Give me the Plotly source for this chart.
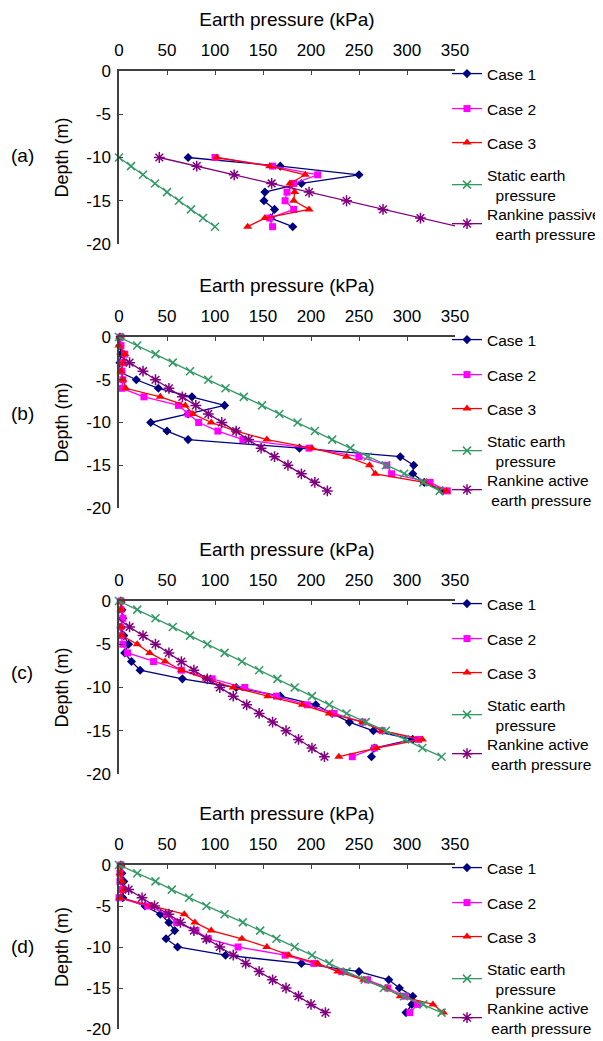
import plotly

# depths (m)
depth_a = [-10, -11, -12, -13, -14, -15, -16, -17, -18]
depth = [0, -1, -2, -3, -4, -5, -6, -7, -8, -9, -10, -11, -12, -13, -14, -15, -16, -17, -18]
depth_rk = [-2, -3, -4, -5, -6, -7, -8, -9, -10, -11, -12, -13, -14, -15, -16, -17, -18]

# (a) passive side
a_case1 = [72, 168, 250, 190, 152, 151, 162, 158, 181]
a_case2 = [100, 160, 207, 182, 175, 173, 182, 157, 160]
a_case3 = [102, 157, 194, 178, 183, 182, 198, 152, 134]
a_static = [0, 12.5, 25, 37.5, 50, 62.5, 75, 87.5, 100]
a_rankine = [42, 81, 120, 159, 198, 237, 275, 314, 354]

# (b)
b_case1 = [1, 1, 2, 1, -1, 18, 41, 76, 110, 72, 33, 50, 72, 188, 293, 307, 306, 318, 337]
b_case2 = [2, 2, 6, 4, 3, 4, 3, 26, 62, 72, 83, 103, 129, 198, 250, 279, 284, 324, 342]
b_case3 = [1, 0, 6, 4, 2, 4, 7, 43, 69, 77, 96, 122, 154, 201, 237, 261, 267, 318, 341]
b_static = [0, 19, 38, 56, 74, 93, 111, 130, 149, 167, 186, 204, 222, 241, 259, 278, 297, 317, 334]
b_rankine = [-2, 11, 25, 38, 52, 66, 80, 93, 107, 122, 135, 148, 162, 176, 190, 204, 217]

# (c)
c_case1 = [2, 3, 4, 2, 5, 10, 6, 13, 22, 66, 122, 168, 205, 222, 240, 265, 306, 266, 263]
c_case2 = [2, 2, 4, 2, 2, 4, 9, 36, 65, 97, 131, 164, 196, 224, 254, 274, 312, 266, 243]
c_case3 = [2, 2, -3, 2, 3, 19, 32, 48, 65, 91, 119, 155, 191, 219, 254, 274, 316, 268, 229]
c_static = [0, 19, 38, 56, 74, 92, 110, 128, 146, 165, 183, 201, 219, 237, 257, 278, 298, 316, 336]
c_rankine = [-1, 11, 25, 38, 52, 65, 78, 92, 105, 119, 133, 146, 160, 174, 187, 201, 214]

# (d)
d_case1 = [2, 3, 5, 4, 4, 27, 43, 52, 58, 49, 61, 111, 190, 250, 281, 292, 306, 305, 299]
d_case2 = [2, 1, 1, 3, 0, 30, 50, 60, 80, 93, 124, 173, 203, 232, 259, 280, 298, 311, 303]
d_case3 = [2, 1, 3, 5, 1, 35, 68, 79, 96, 128, 154, 177, 207, 228, 255, 278, 293, 327, 338]
d_static = [0, 19, 38, 55, 73, 91, 110, 129, 147, 164, 183, 201, 219, 237, 256, 276, 297, 317, 336]
d_rankine = [-1, 10, 24, 37, 52, 64, 78, 91, 105, 119, 132, 146, 160, 174, 187, 200, 215]

panel_labels = ["(a)", "(b)", "(c)", "(d)"]
x_ticks = [0, 50, 100, 150, 200, 250, 300, 350]
y_ticks = [0, -5, -10, -15, -20]
y_ticktext = ["0", "-5", "-10", "-15", "-20"]

FONT = "Liberation Sans, Arial, sans-serif"
# the page body adds an 8 px margin, so the figure is drawn 8 px smaller
OFF = 8
W, H = 603 - OFF, 1041 - OFF
# plot area tops / bottoms in window pixels
tops = [71, 337, 601, 865]
bottoms = [244, 508, 774, 1029]
label_y = [155, 413, 672, 946]
# legend entry centres below each plot top
legend_dy = [3, 38, 72, 114, 153]

styles = {
    "case1": dict(color="#000080", symbol="diamond", size=7),
    "case2": dict(color="#FF00FF", symbol="square", size=7),
    "case3": dict(color="#FF0000", symbol="triangle-up", size=8),
    "static": dict(color="#339966", symbol="x-thin-open", size=8),
    "rankine": dict(color="#800080", symbol="asterisk-open", size=9),
}


def px_x(p):
    return (p - OFF) / W


def px_y(p):
    return 1 - (p - OFF) / H


def make_trace(x, y, key, name, n, leg, clip=False):
    st = styles[key]
    marker = dict(color=st["color"], symbol=st["symbol"], size=st["size"])
    if st["symbol"].endswith("-open"):
        marker["line"] = dict(color=st["color"], width=1.5)
    return plotly.graph_objs.Scatter(
        x=x, y=y, name=name, mode="lines+markers",
        line=dict(color=st["color"], width=1.3),
        marker=marker, cliponaxis=clip, showlegend=True,
        xaxis="x" + str(n), yaxis="y" + str(n),
        legend="legend" if leg == 1 else "legend" + str(leg),
    )


panels = [
    (depth_a, a_case1, a_case2, a_case3, a_static, depth_a, a_rankine,
     "Rankine passive<br>\u00a0\u00a0earth pressure"),
    (depth, b_case1, b_case2, b_case3, b_static, depth_rk, b_rankine,
     "Rankine active<br>\u00a0earth pressure"),
    (depth, c_case1, c_case2, c_case3, c_static, depth_rk, c_rankine,
     "Rankine active<br>\u00a0earth pressure"),
    (depth, d_case1, d_case2, d_case3, d_static, depth_rk, d_rankine,
     "Rankine active<br>\u00a0earth pressure"),
]

data = []
layout = dict(
    width=W, height=H, margin=dict(l=0, r=0, t=0, b=0, autoexpand=False),
    paper_bgcolor="white", plot_bgcolor="white", showlegend=True,
    font=dict(family=FONT, size=17, color="black"),
    annotations=[],
)

leg = 0
for i, (dep, c1, c2, c3, st, dep_rk, rk, rk_name) in enumerate(panels):
    n = i + 1
    series = [
        (c1, dep, "case1", "Case 1", False),
        (c2, dep, "case2", "Case 2", False),
        (c3, dep, "case3", "Case 3", False),
        (st, dep, "static", "Static earth<br>\u00a0\u00a0pressure", False),
        (rk, dep_rk, "rankine", rk_name, True),
    ]
    # one small legend per entry, so each can sit where the original has it
    for k, (xv, yv, key, name, clip) in enumerate(series):
        leg += 1
        data.append(make_trace(xv, yv, key, name, n, leg, clip))
        layout["legend" if leg == 1 else "legend" + str(leg)] = dict(
            x=px_x(447), xanchor="left", y=px_y(tops[i] + legend_dy[k]), yanchor="middle",
            bgcolor="rgba(0,0,0,0)", font=dict(size=15.5), itemwidth=30, visible=True,
        )

    sfx = "" if n == 1 else str(n)
    layout["xaxis" + sfx] = dict(
        domain=[px_x(119), px_x(455)], range=[0, 350], side="top", anchor="y" + str(n),
        tickvals=x_ticks, ticks="inside", ticklen=4, tickwidth=1.3, tickcolor="#404040",
        showline=True, linecolor="#404040", linewidth=1.5, automargin=False,
        showgrid=False, zeroline=False, tickfont=dict(size=17), ticklabelstandoff=6,
        title=dict(text="Earth pressure (kPa)", font=dict(size=19), standoff=10),
    )
    layout["yaxis" + sfx] = dict(
        domain=[px_y(bottoms[i]), px_y(tops[i])], range=[-20, 0], anchor="x" + str(n),
        tickvals=y_ticks, ticktext=y_ticktext, ticks="inside", ticklen=4, tickwidth=1.3,
        tickcolor="#404040", showline=True, linecolor="#404040", linewidth=1.5,
        showgrid=False, zeroline=False, tickfont=dict(size=17), automargin=False,
        ticklabelstandoff=3, ticklabeloverflow="allow",
        title=dict(text="Depth (m)", font=dict(size=18), standoff=13),
    )
    layout["annotations"].append(dict(
        text=panel_labels[i], xref="paper", yref="paper", x=px_x(22), y=px_y(label_y[i]),
        showarrow=False, font=dict(size=19), xanchor="center", yanchor="middle",
    ))

fig = plotly.graph_objs.Figure(data=data, layout=layout)
fig.write_html("out.html")
